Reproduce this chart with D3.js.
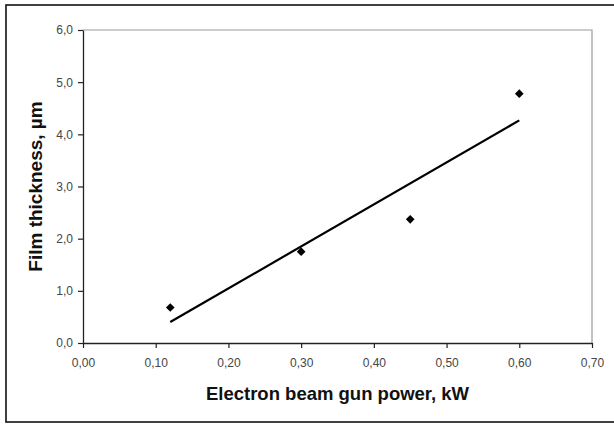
<!DOCTYPE html>
<html>
<head>
<meta charset="utf-8">
<script src="https://cdn.jsdelivr.net/npm/d3@7"></script>
<style>
  html, body { margin: 0; padding: 0; background: #fff; }
  svg { display: block; }
</style>
</head>
<body>
<div id="chart"></div>
<script>
// data
const power = [0.12, 0.30, 0.45, 0.60];          // kW
const thickness = [0.68, 1.75, 2.37, 4.78];      // µm
const xTicks = [0, 0.1, 0.2, 0.3, 0.4, 0.5, 0.6, 0.7];
const yTicks = [0, 1, 2, 3, 4, 5, 6];
const xTitle = "Electron beam gun power, kW";
const yTitle = "Film thickness, µm";

const width = 614, height = 425;
const margin = { top: 30, right: 22, bottom: 82, left: 83 };

const svg = d3.select("#chart").append("svg")
  .attr("width", width)
  .attr("height", height)
  .attr("font-family", "Liberation Sans, Arial, sans-serif");

// outer chart frame (right edge runs off the picture)
svg.append("rect")
  .attr("x", 6).attr("y", 5)
  .attr("width", 620).attr("height", 417)
  .attr("fill", "none")
  .attr("stroke", "#111")
  .attr("stroke-width", 1.6);

const x = d3.scaleLinear()
  .domain([0, 0.7])
  .range([margin.left, width - margin.right]);

const y = d3.scaleLinear()
  .domain([0, 6])
  .range([height - margin.bottom, margin.top]);

// plot area border, top and right (grey)
svg.append("path")
  .attr("d", `M${x(0)},${y(6)}H${x(0.7)}V${y(0)}`)
  .attr("fill", "none")
  .attr("stroke", "#9a9a9a")
  .attr("stroke-width", 1.2);

const fmtX = v => d3.format(".2f")(v).replace(".", ",");
const fmtY = v => d3.format(".1f")(v).replace(".", ",");

// x axis
const xAxis = svg.append("g")
  .attr("transform", `translate(0,${y(0)})`)
  .call(d3.axisBottom(x).tickValues(xTicks).tickFormat(fmtX).tickSizeInner(5).tickSizeOuter(0).tickPadding(10));

// y axis
const yAxis = svg.append("g")
  .attr("transform", `translate(${x(0)},0)`)
  .call(d3.axisLeft(y).tickValues(yTicks).tickFormat(fmtY).tickSizeInner(5).tickSizeOuter(0).tickPadding(5));

[xAxis, yAxis].forEach(g => {
  g.attr("font-size", 12);
  g.select(".domain").attr("stroke", "#222").attr("stroke-width", 1.3);
  g.selectAll(".tick line").attr("stroke", "#222").attr("stroke-width", 1.2);
  g.selectAll(".tick text")
    .attr("fill", "#454545")
    .attr("font-size", 12)
    .attr("font-family", "Liberation Sans, Arial, sans-serif");
});

// linear trendline (least squares through the points)
const mx = d3.mean(power), my = d3.mean(thickness);
const slope = d3.sum(power, (p, i) => (p - mx) * (thickness[i] - my)) /
              d3.sum(power, p => (p - mx) ** 2);
const icpt = my - slope * mx;
const xs = d3.extent(power);

svg.append("line")
  .attr("x1", x(xs[0])).attr("y1", y(icpt + slope * xs[0]))
  .attr("x2", x(xs[1])).attr("y2", y(icpt + slope * xs[1]))
  .attr("stroke", "#000")
  .attr("stroke-width", 2.2);

// diamond markers
const diamond = d3.symbol().type(d3.symbolDiamond2).size(48);
svg.append("g")
  .selectAll("path")
  .data(power.map((p, i) => [p, thickness[i]]))
  .join("path")
  .attr("transform", d => `translate(${x(d[0])},${y(d[1])})`)
  .attr("d", diamond)
  .attr("fill", "#000");

// axis titles
svg.append("text")
  .attr("x", (x(0) + x(0.7)) / 2)
  .attr("y", 400)
  .attr("text-anchor", "middle")
  .attr("font-size", 18.5)
  .attr("font-weight", "bold")
  .attr("fill", "#111")
  .text(xTitle);

svg.append("text")
  .attr("transform", `translate(42,${(y(0) + y(6)) / 2}) rotate(-90)`)
  .attr("text-anchor", "middle")
  .attr("font-size", 19)
  .attr("font-weight", "bold")
  .attr("fill", "#111")
  .text(yTitle);
</script>
</body>
</html>
